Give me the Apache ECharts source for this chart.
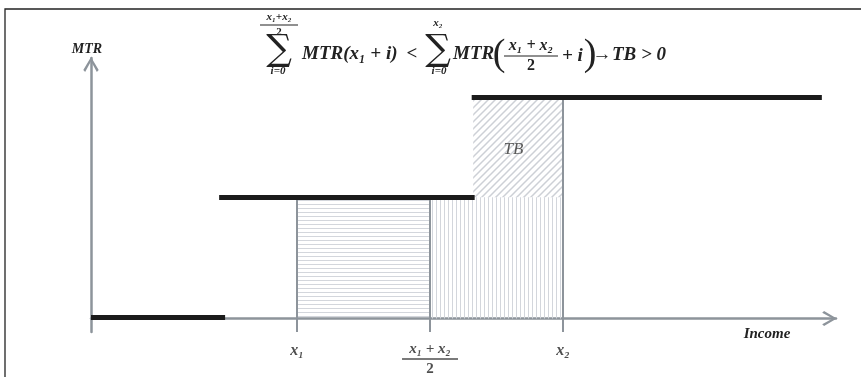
<!DOCTYPE html>
<html lang="en">
<head>
  <meta charset="utf-8">
  <title>MTR steps</title>
  <style>
    html, body { margin: 0; padding: 0; background: #fff; }
    #chart1 { width: 861px; height: 377px; }
  </style>
</head>
<body>
<div id="chart1"></div>
<script src="https://cdn.jsdelivr.net/npm/echarts@6.0.0/dist/echarts.min.js"></script>
<script>
  // tax brackets: start, end, marginal rate
  var stepFrom = [0, 17.2, 51.1];
  var stepTo = [18, 51.5, 98.1];
  var stepRate = [0.4, 44.7, 81.6];

  // incomes marked on the x axis
  var x1 = 27.65, x2 = 63.36;
  var xMid = (x1 + x2) / 2;
  var tickPos = [x1, xMid, x2];
  var tickName = ['x1', 'mid', 'x2'];

  // shaded areas
  var areaKind = ['h', 'v', 'd'];
  var areaFrom = [x1, xMid, 51.3];
  var areaTo = [xMid, x2, x2];
  var areaLow = [0, 0, 44.7];
  var areaHigh = [44.7, 44.7, 81.6];

  var yBottom = -5;

  var serif = "'Liberation Serif', 'DejaVu Serif', serif";
  var ink = '#222';
  var axisGray = '#8d949b';
  var chevron = 'path://M10,0 L20,17 L17.6,19.5 L10,5.5 L2.4,19.5 L0,17 Z';

  function makePattern(kind) {
    var c = document.createElement('canvas');
    var ctx = c.getContext('2d');
    if (kind === 'h') {
      c.width = 8; c.height = 4;
      ctx.fillStyle = '#d3d6dc';
      ctx.fillRect(0, 0, 8, 1);
    } else if (kind === 'v') {
      c.width = 4; c.height = 8;
      ctx.fillStyle = '#d3d6dc';
      ctx.fillRect(0, 0, 1, 8);
    } else {
      var s = 7;
      c.width = s; c.height = s;
      ctx.strokeStyle = '#cdd0d6';
      ctx.lineWidth = 1.5;
      ctx.beginPath();
      ctx.moveTo(-1, s + 1); ctx.lineTo(s + 1, -1);
      ctx.moveTo(-1, 1); ctx.lineTo(1, -1);
      ctx.moveTo(s - 1, s + 1); ctx.lineTo(s + 1, s - 1);
      ctx.stroke();
    }
    return { image: c, repeat: 'repeat' };
  }

  function cargar_chart() {
    var chart1 = echarts.init(document.getElementById('chart1'));

    var areaData = [];
    for (var i = 0; i < areaKind.length; i++) {
      areaData.push([areaFrom[i], areaTo[i], areaLow[i], areaHigh[i]]);
    }
    var patterns = areaKind.map(makePattern);

    var stepData = [];
    for (var i = 0; i < stepFrom.length; i++) {
      stepData.push({ coords: [[stepFrom[i], stepRate[i]], [stepTo[i], stepRate[i]]] });
    }

    // gray guides from below the axis up to the rate line
    var guideData = [
      { coords: [[x1, yBottom], [x1, stepRate[1]]] },
      { coords: [[xMid, yBottom], [xMid, stepRate[1]]] },
      { coords: [[x2, yBottom], [x2, stepRate[2]]] }
    ];

    var tickData = tickPos.map(function (p, k) {
      return { value: [p, yBottom], name: tickName[k] };
    });

    var subF = "bold italic 11px " + serif;
    var mainF = "bold italic 19px " + serif;

    function txt(x, y, text, font, align, extra, el) {
      var st = {
        text: text, font: font, fill: ink,
        align: align || 'center', verticalAlign: 'middle',
        textAlign: align || 'center', textVerticalAlign: 'middle'
      };
      if (extra) { for (var k in extra) st[k] = extra[k]; }
      var g = { type: 'text', x: x, y: y, z: 10, style: st };
      if (el) { for (var k in el) g[k] = el[k]; }
      return g;
    }

    var fracRich = function (size, barW) {
      return {
        n: { fontSize: size, fontWeight: 'bold', fontStyle: 'italic', fontFamily: serif, color: ink, align: 'center', lineHeight: size + 1 },
        b: { width: barW, height: 1.2, lineHeight: 3, backgroundColor: ink, align: 'center' },
        d: { fontSize: size, fontWeight: 'bold', fontFamily: serif, color: ink, align: 'center', lineHeight: size + 1 }
      };
    };

    var sigmaF = "36px 'DejaVu Serif'";

    var graphics = [
      { type: 'polyline', z: 10, shape: { points: [[5, 377], [5, 9], [861, 9]] }, style: { stroke: '#222', lineWidth: 1.3, fill: null } },
      txt(87, 49, 'MTR', "bold italic 14px " + serif),
      txt(767, 334, 'Income', "bold italic 15px " + serif),
      // formula
      txt(279, 51, '\u2211', sigmaF, 'center', null, { scaleX: 1.0 }),
      txt(279, 25, '{n|x\u2081+x\u2082}\n{b| }\n{d|2}', "11px " + serif, 'center', { rich: fracRich(11, 38) }),
      txt(278, 71, 'i=0', subF),
      txt(302, 54, 'MTR(x\u2081 + i)', mainF, 'left'),
      txt(412, 54, '<', "bold 19px " + serif),
      txt(438, 51, '\u2211', sigmaF, 'center', null, { scaleX: 1.0 }),
      txt(438, 23, 'x\u2082', subF),
      txt(439, 71, 'i=0', subF),
      txt(453, 54, 'MTR', mainF, 'left'),
      txt(499, 55, '(', "38px " + serif),
      txt(531, 56, '{n|x\u2081 + x\u2082}\n{b| }\n{d|2}', "16px " + serif, 'center', { rich: fracRich(16, 54) }),
      txt(562, 56, '+ i', mainF, 'left'),
      txt(590, 55, ')', "38px " + serif),
      txt(602, 55, '\u2192', "bold 19px " + serif),
      txt(612, 55, 'TB > 0', mainF, 'left')
    ];

    var option = {
      animation: false,
      grid: { left: 91, right: 25, top: 58, bottom: 45 },
      xAxis: {
        type: 'value', min: 0, max: 100,
        axisLine: { onZero: true, lineStyle: { color: axisGray, width: 2.5 }, symbol: ['none', chevron], symbolSize: [15, 15], symbolOffset: [0, -6.5] },
        axisTick: { show: false }, axisLabel: { show: false }, splitLine: { show: false }
      },
      yAxis: {
        type: 'value', min: yBottom, max: 96,
        axisLine: { show: true, lineStyle: { color: axisGray, width: 2.5 }, symbol: ['none', chevron], symbolSize: [16, 15], symbolOffset: [0, -6.5] },
        axisTick: { show: false }, axisLabel: { show: false }, splitLine: { show: false }
      },
      graphic: graphics,
      series: [
        {
          type: 'custom', silent: true, z: 1,
          renderItem: function (params, api) {
            var p0 = api.coord([api.value(0), api.value(3)]);
            var p1 = api.coord([api.value(1), api.value(2)]);
            return {
              type: 'rect',
              shape: { x: p0[0], y: p0[1], width: p1[0] - p0[0], height: p1[1] - p0[1] },
              style: { fill: patterns[params.dataIndex] }
            };
          },
          data: areaData
        },
        {
          type: 'lines', coordinateSystem: 'cartesian2d', silent: true, z: 2,
          lineStyle: { color: axisGray, width: 2, opacity: 1 },
          data: guideData
        },
        {
          type: 'lines', coordinateSystem: 'cartesian2d', silent: true, z: 3,
          lineStyle: { color: '#1b1b1b', width: 5, opacity: 1, cap: 'butt' },
          data: stepData
        },
        {
          type: 'scatter', silent: true, z: 4,
          symbolSize: 1, itemStyle: { color: 'rgba(0,0,0,0)' },
          label: {
            show: true, position: 'bottom', distance: 10,
            formatter: function (p) {
              if (p.name === 'x1') return '{v|x\u2081}';
              if (p.name === 'x2') return '{v|x\u2082}';
              return '{n|x\u2081 + x\u2082}\n{b| }\n{d|2}';
            },
            rich: {
              v: { fontSize: 16, fontWeight: 'bold', fontStyle: 'italic', fontFamily: serif, color: ink },
              n: { fontSize: 15, fontWeight: 'bold', fontStyle: 'italic', fontFamily: serif, color: ink, align: 'center', lineHeight: 14 },
              b: { width: 56, height: 1.3, lineHeight: 5, backgroundColor: ink, align: 'center' },
              d: { fontSize: 15, fontWeight: 'bold', fontFamily: serif, color: ink, align: 'center', lineHeight: 15 }
            }
          },
          data: tickData
        },
        {
          type: 'scatter', silent: true, z: 4,
          symbolSize: 1, itemStyle: { color: 'rgba(0,0,0,0)' },
          label: { show: true, position: 'inside', formatter: 'TB', fontSize: 17, fontStyle: 'italic', fontFamily: serif, color: '#333' },
          data: [[56.7, 62.3]]
        }
      ]
    };
    chart1.setOption(option);
  }

  cargar_chart();
</script>
</body>
</html>
